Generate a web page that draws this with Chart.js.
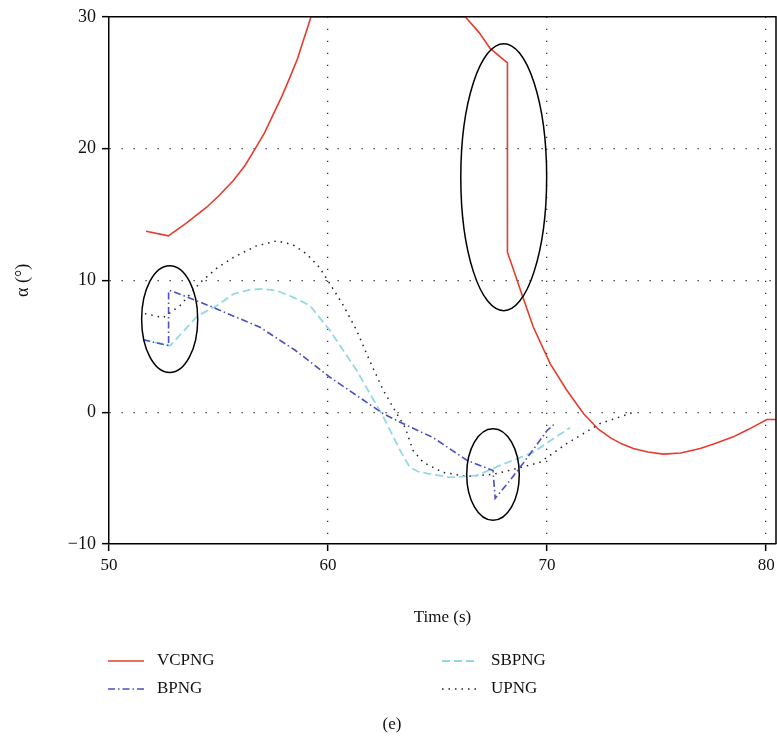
<!DOCTYPE html>
<html>
<head>
<meta charset="utf-8">
<script src="https://cdn.jsdelivr.net/npm/chart.js@4/dist/chart.umd.min.js"></script>
<style>
  html, body { margin: 0; padding: 0; background: #fff; }
  #wrap { position: relative; width: 777px; height: 740px; }
</style>
</head>
<body>
<div id="wrap"><canvas id="alphaChart" width="777" height="740"></canvas></div>
<script>
// series: time (s) and angle of attack (deg)
const vcpngTime  = [51.69, 52.71, 53.5, 54.46, 55.0, 55.68, 56.2, 56.67, 57.1, 57.5, 57.9, 58.26, 58.6, 58.87, 59.05, 59.22, 66.26, 66.9, 67.4, 68.19, 68.19, 68.84, 69.37, 70.14, 70.9, 71.66, 72.34, 72.9, 73.4, 73.94, 74.6, 75.31, 76.1, 76.99, 77.7, 78.5, 79.2, 80.03, 80.45];
const vcpngAlpha = [13.73, 13.38, 14.3, 15.55, 16.4, 17.58, 18.7, 19.98, 21.2, 22.6, 24.0, 25.4, 26.8, 28.2, 29.1, 30, 30, 28.8, 27.6, 26.5, 12.14, 8.99, 6.46, 3.69, 1.67, -0.1, -1.29, -1.95, -2.4, -2.75, -3.02, -3.18, -3.1, -2.75, -2.35, -1.87, -1.3, -0.55, -0.55];

const bpngTime  = [51.55, 52.72, 52.72, 52.86, 54.61, 56.9, 58.5, 60.09, 62.51, 63.29, 64.79, 66.35, 67.53, 67.63, 68.31, 68.9, 70.0, 70.3];
const bpngAlpha = [5.5, 5.05, 9.22, 9.2, 8.05, 6.44, 4.7, 2.65, -0.1, -0.76, -1.92, -3.66, -4.42, -6.54, -5.17, -3.89, -1.39, -0.95];

const sbpngTime  = [51.55, 52.79, 54.06, 54.92, 55.68, 56.44, 57.0, 57.66, 58.42, 59.18, 60.09, 61.31, 62.53, 63.29, 63.74, 64.1, 64.52, 65.57, 66.8, 67.85, 69.36, 71.05];
const sbpngAlpha = [5.5, 5.05, 7.33, 8.08, 8.97, 9.3, 9.35, 9.22, 8.71, 8.08, 6.19, 3.16, -0.38, -2.9, -4.19, -4.5, -4.64, -4.95, -4.8, -4.04, -3.05, -1.16];

const upngTime  = [51.64, 52.47, 53.24, 54.16, 54.9, 55.68, 56.7, 57.66, 58.4, 59.03, 59.6, 60.09, 60.7, 61.31, 61.9, 62.53, 63.14, 63.52, 63.88, 64.34, 65.25, 66.35, 67.53, 68.63, 69.68, 70.91, 72.42, 73.79, 73.9];
const upngAlpha = [7.48, 7.17, 8.08, 9.83, 10.9, 11.74, 12.6, 13.0, 12.7, 12.0, 11.0, 9.73, 8.1, 6.19, 3.9, 1.64, -0.12, -1.16, -2.9, -3.8, -4.57, -4.87, -4.72, -4.27, -3.8, -2.37, -0.86, -0.1, 0];

const xTicks = [50, 60, 70, 80];
const yTicks = [-10, 0, 10, 20, 30];

// highlighted regions: centre (t, alpha) and half widths in data units
const ellipseT  = [52.77, 68.02, 67.53];
const ellipseA  = [7.06, 17.83, -4.73];
const ellipseRT = [1.28, 1.96, 1.2];
const ellipseRA = [4.05, 10.13, 3.47];

const seriesNames = ['VCPNG', 'BPNG', 'SBPNG', 'UPNG'];

const serif = "'Liberation Serif', 'DejaVu Serif', serif";

function pairs(xs, ys) {
  return xs.map((x, i) => ({ x: x, y: ys[i] }));
}

const ellipsePlugin = {
  id: 'ellipses',
  afterDatasetsDraw(chart) {
    const { ctx, scales } = chart;
    const xs = scales.x, ys = scales.y;
    ctx.save();
    ctx.strokeStyle = '#000';
    ctx.lineWidth = 1.5;
    for (let i = 0; i < ellipseT.length; i++) {
      const cx = xs.getPixelForValue(ellipseT[i]);
      const cy = ys.getPixelForValue(ellipseA[i]);
      const rx = Math.abs(xs.getPixelForValue(ellipseT[i] + ellipseRT[i]) - cx);
      const ry = Math.abs(ys.getPixelForValue(ellipseA[i] + ellipseRA[i]) - cy);
      ctx.beginPath();
      ctx.ellipse(cx, cy, rx, ry, 0, 0, Math.PI * 2);
      ctx.stroke();
    }
    ctx.restore();
  }
};

// frame on top/right, legend rows and the panel caption
const framePlugin = {
  id: 'frameAndLegend',
  afterDraw(chart) {
    const { ctx, chartArea } = chart;
    ctx.save();
    ctx.strokeStyle = '#000';
    ctx.lineWidth = 1.5;
    ctx.beginPath();
    ctx.moveTo(chartArea.left, chartArea.top);
    ctx.lineTo(chartArea.right, chartArea.top);
    ctx.lineTo(chartArea.right, chartArea.bottom);
    ctx.stroke();

    const cols = [108, 442];
    const rows = [661, 689];
    ctx.font = '17px ' + serif;
    ctx.textBaseline = 'middle';
    ctx.fillStyle = '#111';
    chart.data.datasets.forEach((ds, i) => {
      const x = cols[Math.floor(i / 2)];
      const y = rows[i % 2];
      ctx.save();
      ctx.strokeStyle = ds.borderColor;
      ctx.lineWidth = ds.borderWidth;
      ctx.setLineDash(ds.borderDash || []);
      ctx.beginPath();
      ctx.moveTo(x, y);
      ctx.lineTo(x + 36, y);
      ctx.stroke();
      ctx.restore();
      ctx.fillText(ds.label, x + 49, y);
    });
    ctx.textAlign = 'center';
    ctx.fillText('(e)', 392, 725);
    ctx.restore();
  }
};

new Chart(document.getElementById('alphaChart'), {
  type: 'line',
  data: {
    datasets: [
      {
        label: seriesNames[0],
        data: pairs(vcpngTime, vcpngAlpha),
        borderColor: '#e63c2e',
        borderWidth: 1.6,
        borderDash: []
      },
      {
        label: seriesNames[1],
        data: pairs(bpngTime, bpngAlpha),
        borderColor: '#4b50bd',
        borderWidth: 1.6,
        borderDash: [7, 3, 1.5, 3]
      },
      {
        label: seriesNames[2],
        data: pairs(sbpngTime, sbpngAlpha),
        borderColor: '#93d8e6',
        borderWidth: 1.8,
        borderDash: [8, 4]
      },
      {
        label: seriesNames[3],
        data: pairs(upngTime, upngAlpha),
        borderColor: '#222',
        borderWidth: 1.5,
        borderDash: [1.5, 5]
      }
    ]
  },
  options: {
    responsive: false,
    animation: false,
    elements: {
      point: { radius: 0 },
      line: { tension: 0, fill: false }
    },
    layout: { padding: { top: 15, right: 1, left: 0, bottom: 106 } },
    plugins: {
      legend: { display: false },
      tooltip: { enabled: false }
    },
    scales: {
      x: {
        type: 'linear',
        min: 50,
        max: 80.45,
        afterFit: (scale) => {
          scale.height = 90;
          scale.paddingRight = 0;
          scale.paddingLeft = 0;
        },
        afterBuildTicks: (scale) => { scale.ticks = xTicks.map(v => ({ value: v })); },
        ticks: {
          font: { family: serif, size: 17 },
          color: '#111',
          padding: 4
        },
        grid: {
          color: (c) => (c.tick && c.tick.value !== 50) ? '#333' : 'rgba(0,0,0,0)',
          lineWidth: 1.3,
          tickLength: 7,
          tickColor: '#000',
          tickWidth: 1.5,
          tickBorderDash: []
        },
        border: { display: true, color: '#000', width: 1.5, dash: [1.3, 10.7] },
        title: {
          display: true,
          text: 'Time (s)',
          font: { family: serif, size: 17 },
          color: '#111',
          padding: { top: 4, bottom: 6 }
        }
      },
      y: {
        type: 'linear',
        min: -10,
        max: 30,
        afterFit: (scale) => { scale.width = 109; },
        afterBuildTicks: (scale) => { scale.ticks = yTicks.map(v => ({ value: v })); },
        ticks: {
          font: { family: serif, size: 18 },
          color: '#111',
          padding: 6,
          callback: (v) => v < 0 ? '\u2212' + Math.abs(v) : String(v)
        },
        grid: {
          color: (c) => (c.tick && c.tick.value > -10 && c.tick.value < 30) ? '#333' : 'rgba(0,0,0,0)',
          lineWidth: 1.3,
          tickLength: 7,
          tickColor: '#000',
          tickWidth: 1.5,
          tickBorderDash: []
        },
        border: { display: true, color: '#000', width: 1.5, dash: [1.3, 10.7] },
        title: {
          display: true,
          text: 'α (°)',
          font: { family: serif, size: 18 },
          color: '#111',
          padding: { top: 12, bottom: 4 }
        }
      }
    }
  },
  plugins: [ellipsePlugin, framePlugin]
});
</script>
</body>
</html>
